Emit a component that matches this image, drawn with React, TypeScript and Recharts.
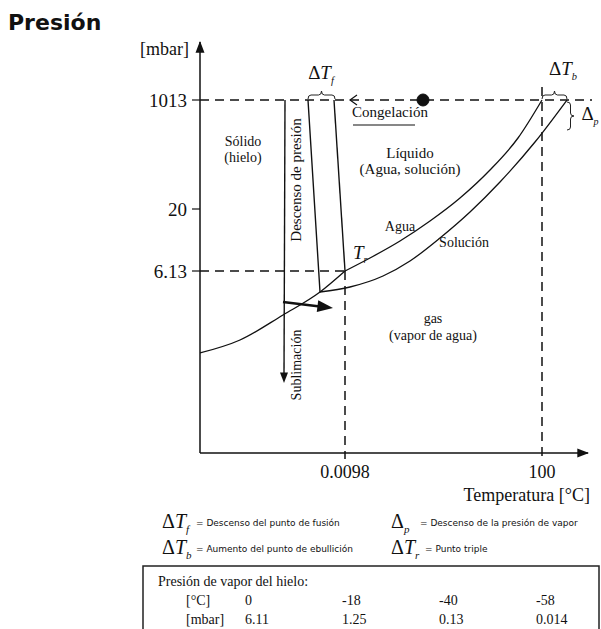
import {
  ComposedChart,
  Line,
  ReferenceArea,
  ReferenceDot,
  ReferenceLine,
  XAxis,
  YAxis,
} from "recharts";

// schematic diagram: x/y are positions in the (not to scale) phase diagram
const tempTicks = [145, 342];
const tempLabels = ["0.0098", "100"];
const pressureTicks = [353, 244, 182];
const pressureLabels = ["1013", "20", "6.13"];

// sublimation curve of ice up to the triple point
const iceCurve = [
  { x: 0, y: 100 },
  { x: 40, y: 113 },
  { x: 83, y: 138 },
  { x: 120, y: 161 },
  { x: 145, y: 182 },
];
// vapour pressure of pure water
const waterCurve = [
  { x: 145, y: 182 },
  { x: 170, y: 195 },
  { x: 200, y: 212 },
  { x: 230, y: 232 },
  { x: 260, y: 255 },
  { x: 290, y: 283 },
  { x: 318, y: 315 },
  { x: 342, y: 353 },
];
// vapour pressure of the solution
const solutionCurve = [
  { x: 120, y: 161 },
  { x: 150, y: 166 },
  { x: 183, y: 177 },
  { x: 210, y: 192 },
  { x: 240, y: 215 },
  { x: 270, y: 241 },
  { x: 300, y: 271 },
  { x: 335, y: 311 },
  { x: 367, y: 353 },
];
// melting lines
const waterMelt = [
  { x: 134, y: 353 },
  { x: 145, y: 182 },
];
const solutionMelt = [
  { x: 108, y: 353 },
  { x: 120, y: 161 },
];
// pressure drop and sublimation arrows
const pressureDrop = [
  { x: 85, y: 353 },
  { x: 84, y: 76 },
];
const sublimationPath = [
  { x: 83, y: 151 },
  { x: 124, y: 146 },
];
const freezePoint = { x: 223, y: 353 };

const iceTemps = ["0", "-18", "-40", "-58"];
const icePressures = ["6.11", "1.25", "0.13", "0.014"];

const SERIF = "'Liberation Serif', 'Times New Roman', serif";
const SANS = "'DejaVu Sans', Verdana, sans-serif";
const DASH = "9 6";

const note = (
  key: string,
  x: number,
  y: number,
  content: React.ReactNode,
  extra: Record<string, any> = {}
) => (
  <ReferenceDot
    key={key}
    x={x}
    y={y}
    r={0}
    ifOverflow="visible"
    shape={(p: any) => (
      <text
        x={p.cx}
        y={p.cy}
        fontFamily={SERIF}
        fontSize={14}
        fill="#111"
        textAnchor="middle"
        transform={extra.rotate ? `rotate(-90 ${p.cx} ${p.cy})` : undefined}
        {...extra.style}
      >
        {content}
      </text>
    )}
  />
);

const arrowHead = (key: string, x: number, y: number, angle: number, size = 10) => (
  <ReferenceDot
    key={key}
    x={x}
    y={y}
    r={0}
    ifOverflow="visible"
    shape={(p: any) => (
      <path
        d={`M0,0 L${-size * 1.3},${-size / 2} L${-size * 1.3},${size / 2} Z`}
        fill="#111"
        transform={`translate(${p.cx},${p.cy}) rotate(${angle})`}
      />
    )}
  />
);

const hBrace = (props: any) => {
  const { x, y, width: w, height: h } = props;
  const m = x + w / 2;
  const c = y + h / 2;
  return (
    <path
      d={`M${x},${y + h} Q${x},${c} ${x + 3},${c} L${m - 3},${c} Q${m},${c} ${m},${y} Q${m},${c} ${m + 3},${c} L${x + w - 3},${c} Q${x + w},${c} ${x + w},${y + h}`}
      fill="none"
      stroke="#222"
      strokeWidth={1}
    />
  );
};

const vBrace = (props: any) => {
  const { x, y, width: w, height: h } = props;
  const m = y + h / 2;
  const c = x + w / 2;
  return (
    <path
      d={`M${x},${y} Q${c},${y} ${c},${y + 3} L${c},${m - 3} Q${c},${m} ${x + w},${m} Q${c},${m} ${c},${m + 3} L${c},${y + h - 3} Q${c},${y + h} ${x},${y + h}`}
      fill="none"
      stroke="#222"
      strokeWidth={1}
    />
  );
};

const DeltaT = ({ sub, size }: { sub: string; size: number }) => (
  <>
    <tspan>Δ</tspan>
    <tspan fontStyle="italic">T</tspan>
    <tspan fontStyle="italic" fontSize={size * 0.55} dy={size * 0.25}>
      {sub}
    </tspan>
  </>
);

function Legend() {
  const big = 20;
  return (
    <svg
      width={601}
      height={629}
      style={{ position: "absolute", left: 0, top: 0, pointerEvents: "none" }}
    >
      <text x={8} y={30} fontFamily={SANS} fontWeight="bold" fontSize={22} fill="#111">
        Presión
      </text>
      <text x={189} y={55} fontFamily={SERIF} fontSize={18} fill="#111" textAnchor="end">
        [mbar]
      </text>
      <text x={590} y={501} fontFamily={SERIF} fontSize={18} fill="#111" textAnchor="end">
        Temperatura [°C]
      </text>

      <text x={162} y={528} fontFamily={SERIF} fontSize={big} fill="#111">
        <DeltaT sub="f" size={big} />
      </text>
      <text x={196} y={526} fontFamily={SANS} fontSize={9} fill="#111">
        = Descenso del punto de fusión
      </text>
      <text x={162} y={554} fontFamily={SERIF} fontSize={big} fill="#111">
        <DeltaT sub="b" size={big} />
      </text>
      <text x={196} y={552} fontFamily={SANS} fontSize={9} fill="#111">
        = Aumento del punto de ebullición
      </text>
      <text x={391} y={528} fontFamily={SERIF} fontSize={big} fill="#111">
        <tspan>Δ</tspan>
        <tspan fontStyle="italic" fontSize={big * 0.55} dy={big * 0.25}>
          p
        </tspan>
      </text>
      <text x={420} y={526} fontFamily={SANS} fontSize={9} fill="#111">
        = Descenso de la presión de vapor
      </text>
      <text x={391} y={554} fontFamily={SERIF} fontSize={big} fill="#111">
        <DeltaT sub="r" size={big} />
      </text>
      <text x={425} y={552} fontFamily={SANS} fontSize={9} fill="#111">
        = Punto triple
      </text>

      <rect x={143} y={566} width={456} height={80} fill="none" stroke="#222" strokeWidth={1.5} />
      <text x={158} y={586} fontFamily={SERIF} fontSize={14} fill="#111">
        Presión de vapor del hielo:
      </text>
      <text x={186} y={605} fontFamily={SERIF} fontSize={14} fill="#111">
        [°C]
      </text>
      <text x={186} y={624} fontFamily={SERIF} fontSize={14} fill="#111">
        [mbar]
      </text>
      {iceTemps.map((t, i) => (
        <text key={t} x={245 + i * 97} y={605} fontFamily={SERIF} fontSize={14} fill="#111">
          {t}
        </text>
      ))}
      {icePressures.map((t, i) => (
        <text key={t} x={245 + i * 97} y={624} fontFamily={SERIF} fontSize={14} fill="#111">
          {t}
        </text>
      ))}
    </svg>
  );
}

export default function App() {
  const curve = (key: string, data: any[], width = 1.3, type: any = "monotone") => (
    <Line
      key={key}
      data={data}
      dataKey="y"
      type={type}
      stroke="#111"
      strokeWidth={width}
      dot={false}
      activeDot={false}
      isAnimationActive={false}
    />
  );

  return (
    <div style={{ position: "absolute", left: 0, top: 0, width: 601, height: 629, background: "#fff" }}>
      <ComposedChart
        width={601}
        height={629}
        margin={{ top: 42, right: 13, bottom: 136, left: 140 }}
        style={{ fontFamily: SERIF }}
      >
        <XAxis
          type="number"
          dataKey="x"
          domain={[0, 388]}
          ticks={tempTicks}
          tickFormatter={(v: number) => tempLabels[tempTicks.indexOf(v)]}
          tickLine={false}
          axisLine={{ stroke: "#111", strokeWidth: 1.5 }}
          tick={{ fill: "#111", fontSize: 18, fontFamily: SERIF, dy: 4 }}
          height={40}
          allowDataOverflow
        />
        <YAxis
          type="number"
          dataKey="y"
          domain={[0, 411]}
          ticks={pressureTicks}
          tickFormatter={(v: number) => pressureLabels[pressureTicks.indexOf(v)]}
          tickSize={8}
          tickMargin={5}
          tickLine={{ stroke: "#111", strokeWidth: 1.2 }}
          axisLine={{ stroke: "#111", strokeWidth: 1.5 }}
          tick={{ fill: "#111", fontSize: 19, fontFamily: SERIF }}
          width={60}
          allowDataOverflow
        />

        {/* guide lines */}
        <ReferenceLine
          segment={[{ x: 0, y: 353 }, { x: 392, y: 353 }]}
          stroke="#111"
          strokeWidth={1.5}
          strokeDasharray={DASH}
          ifOverflow="visible"
        />
        <ReferenceLine
          segment={[{ x: 0, y: 182 }, { x: 145, y: 182 }]}
          stroke="#111"
          strokeWidth={1.5}
          strokeDasharray={DASH}
          ifOverflow="visible"
        />
        <ReferenceLine
          segment={[{ x: 145, y: 182 }, { x: 145, y: -6 }]}
          stroke="#111"
          strokeWidth={1.5}
          strokeDasharray={DASH}
          ifOverflow="visible"
        />
        <ReferenceLine
          segment={[{ x: 342, y: 366 }, { x: 342, y: -6 }]}
          stroke="#111"
          strokeWidth={1.5}
          strokeDasharray={DASH}
          ifOverflow="visible"
        />
        <ReferenceLine
          segment={[{ x: 153, y: 328 }, { x: 215, y: 328 }]}
          stroke="#111"
          strokeWidth={1.2}
          ifOverflow="visible"
        />

        {curve("ice", iceCurve)}
        {curve("water", waterCurve)}
        {curve("solution", solutionCurve)}
        {curve("waterMelt", waterMelt, 1.4, "linear")}
        {curve("solutionMelt", solutionMelt, 1.4, "linear")}
        {curve("drop", pressureDrop, 1.4, "linear")}
        {curve("sublimation", sublimationPath, 2.6, "linear")}

        {arrowHead("dropHead", 84, 70, 90, 8)}
        {arrowHead("sublHead", 133, 145, 7, 12)}
        {arrowHead("axisX", 389, 0, 0, 9)}
        {arrowHead("axisY", 0, 412, -90, 9)}

        {/* freezing: dot and open arrow head */}
        <ReferenceDot
          x={freezePoint.x}
          y={freezePoint.y}
          r={6}
          fill="#111"
          stroke="#111"
          ifOverflow="visible"
        />
        <ReferenceDot
          x={150}
          y={353}
          r={0}
          ifOverflow="visible"
          shape={(p: any) => (
            <path
              d={`M${p.cx + 7},${p.cy - 5} L${p.cx},${p.cy} L${p.cx + 7},${p.cy + 5}`}
              fill="none"
              stroke="#111"
              strokeWidth={1.2}
            />
          )}
        />

        {/* braces */}
        <ReferenceArea x1={108} x2={135} y1={354} y2={362} shape={hBrace} ifOverflow="visible" />
        <ReferenceArea x1={342} x2={367} y1={354} y2={362} shape={hBrace} ifOverflow="visible" />
        <ReferenceArea x1={367} x2={374} y1={323} y2={351} shape={vBrace} ifOverflow="visible" />

        {note("solido", 43, 307, "Sólido")}
        {note("hielo", 43, 291, "(hielo)")}
        {note("liquido", 210, 295, "Líquido", { style: { fontSize: 15 } })}
        {note("agua-sol", 210, 279, "(Agua, solución)", { style: { fontSize: 15 } })}
        {note("gas", 233, 130, "gas")}
        {note("vapor", 233, 113, "(vapor de agua)")}
        {note("agua", 200, 222, "Agua")}
        {note("solucion", 264, 206, "Solución")}
        {note("congel", 190, 336, "Congelación", { style: { fontSize: 15 } })}
        {note("descenso", 101, 273, "Descenso de presión", { rotate: true, style: { fontSize: 15 } })}
        {note("sublim", 101, 88, "Sublimación", { rotate: true, style: { fontSize: 14 } })}
        {note(
          "tr",
          153,
          194,
          <>
            <tspan fontStyle="italic">T</tspan>
            <tspan fontStyle="italic" fontSize={10} dy={4}>
              r
            </tspan>
          </>,
          { style: { fontSize: 19, textAnchor: "start" } }
        )}
        {note("dtf", 121, 374, <DeltaT sub="f" size={19} />, { style: { fontSize: 19 } })}
        {note("dtb", 363, 378, <DeltaT sub="b" size={19} />, { style: { fontSize: 19 } })}
        {note(
          "dp",
          390,
          333,
          <>
            <tspan>Δ</tspan>
            <tspan fontStyle="italic" fontSize={10} dy={5}>
              p
            </tspan>
          </>,
          { style: { fontSize: 19 } }
        )}
      </ComposedChart>
      <Legend />
    </div>
  );
}
